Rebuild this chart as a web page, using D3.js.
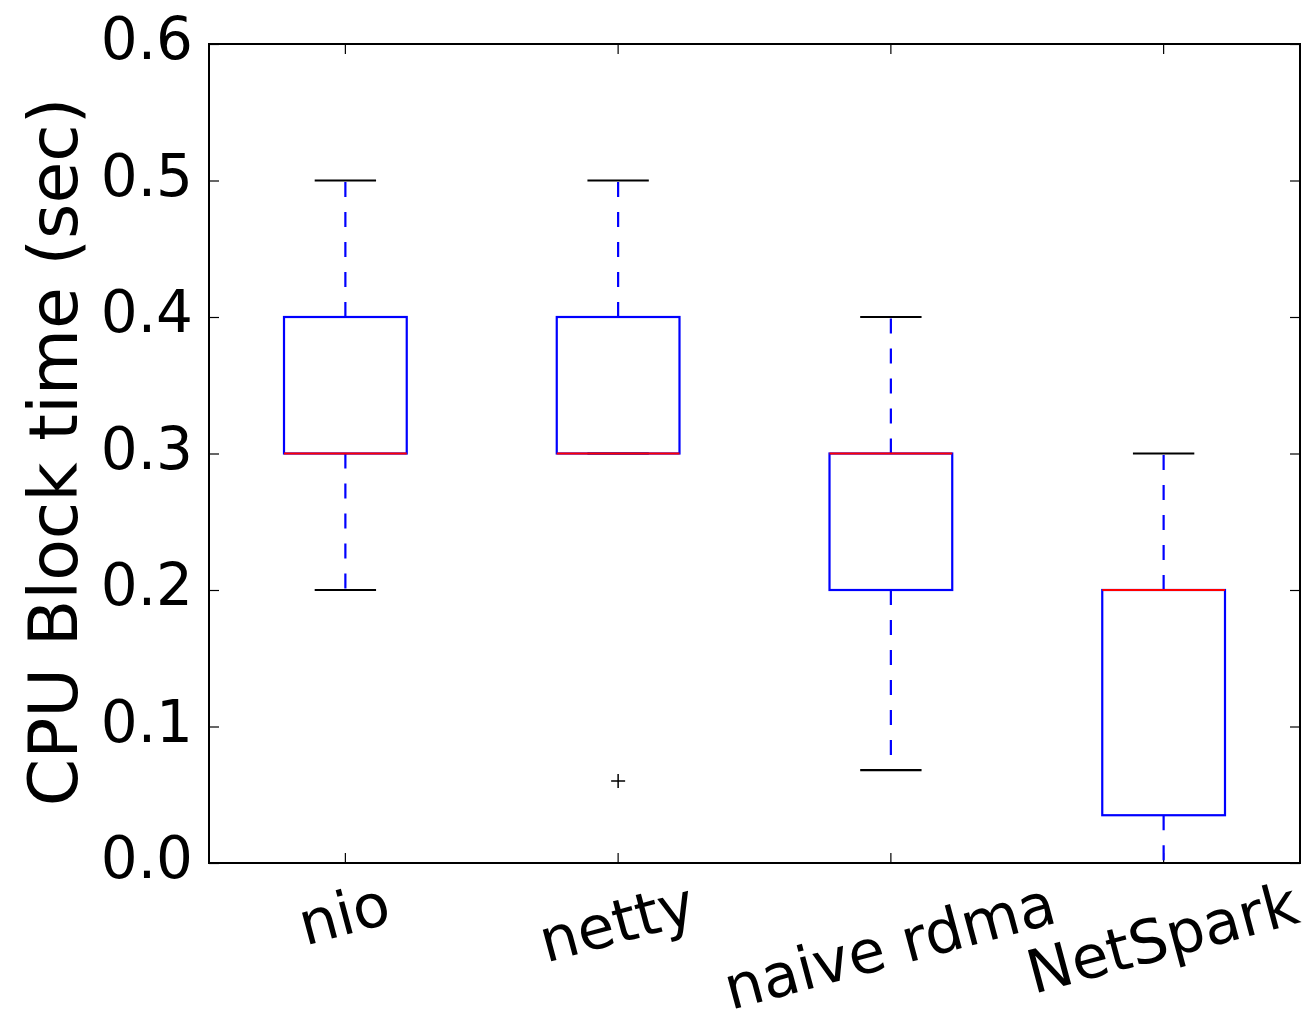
<!DOCTYPE html>
<html>
<head>
<meta charset="utf-8">
<script src="https://cdn.jsdelivr.net/npm/d3@7"></script>
<style>
  body { margin: 0; background: #fff; }
  text { font-family: "DejaVu Sans", sans-serif; fill: #000; }
</style>
</head>
<body>
<div id="chart"></div>
<script>
// data
var categories = ["nio", "netty", "naive rdma", "NetSpark"];
var whiskLow  = [0.2, 0.3, 0.068, 0.0];
var q1        = [0.3, 0.3, 0.2, 0.035];
var median    = [0.3, 0.3, 0.3, 0.2];
var q3        = [0.4, 0.4, 0.3, 0.2];
var whiskHigh = [0.5, 0.5, 0.4, 0.3];
var outliers  = [[], [0.06], [], []];
var yTicks    = [0.0, 0.1, 0.2, 0.3, 0.4, 0.5, 0.6];

var boxes = categories.map(function(c, i) {
  return {name: c, lo: whiskLow[i], q1: q1[i], med: median[i], q3: q3[i], hi: whiskHigh[i], out: outliers[i]};
});

// set the graph
var W = 1306, H = 1023;
var margin = {top: 44, right: 6, bottom: 160, left: 209},
    width = W - margin.left - margin.right,
    height = H - margin.top - margin.bottom;

var svg = d3.select("#chart")
  .append("svg")
    .attr("width", W)
    .attr("height", H)
  .append("g")
    .attr("transform", "translate(" + margin.left + "," + margin.top + ")");

var x = d3.scaleBand()
  .domain(categories)
  .range([0, width]);

var y = d3.scaleLinear()
  .domain([0, 0.6])
  .range([height, 0]);

var boxW = x.bandwidth() * 0.45,
    capW = boxW / 2;
function cx(d) { return x(d.name) + x.bandwidth() / 2; }

// axes, ticks pointing inward
var yAxis = svg.append("g")
  .call(d3.axisLeft(y).tickValues(yTicks).tickFormat(d3.format(".1f")).tickSize(-10).tickPadding(16));
yAxis.selectAll("text").style("font-size", "58px").attr("dy", "0.25em");

svg.append("g")
  .attr("transform", "translate(" + width + ",0)")
  .call(d3.axisRight(y).tickValues(yTicks).tickSize(-10).tickFormat(""));

svg.append("g")
  .attr("transform", "translate(0," + height + ")")
  .call(d3.axisBottom(x).tickSize(-10).tickFormat(""));

svg.append("g")
  .call(d3.axisTop(x).tickSize(-10).tickFormat(""));

svg.selectAll(".domain").remove();
svg.selectAll(".tick line").attr("stroke", "#000").attr("stroke-width", 1.2);

// rotated category labels, bbox top at fixed y, centred on tick
var fs = 60, ang = 15, rad = ang * Math.PI / 180;
svg.append("g").selectAll("text")
  .data(categories)
  .enter()
  .append("text")
    .text(function(d) { return d; })
    .style("font-size", fs + "px")
    .attr("text-anchor", "middle")
    .each(function(d) {
      var w = this.getComputedTextLength();
      var a = fs * 0.76, dsc = fs * 0.24;
      var x0 = x(d) + x.bandwidth() / 2 - Math.sin(rad) * (dsc - a) / 2;
      var y0 = height + 15 + Math.sin(rad) * w / 2 + Math.cos(rad) * a;
      d3.select(this).attr("transform", "translate(" + x0 + "," + y0 + ") rotate(" + (-ang) + ")");
    });

// y label
svg.append("text")
  .attr("transform", "translate(" + (77 - margin.left) + "," + (452 - margin.top) + ") rotate(-90)")
  .attr("text-anchor", "middle")
  .style("font-size", "68px")
  .text("CPU Block time (sec)");

// whiskers
var g = svg.append("g");
g.selectAll(".wh").data(boxes).enter().append("line")
  .attr("x1", cx).attr("x2", cx)
  .attr("y1", function(d) { return y(d.q3); })
  .attr("y2", function(d) { return y(d.hi); })
  .attr("stroke", "#0000ff").attr("stroke-width", 2.2).attr("stroke-dasharray", "15,15");
g.selectAll(".wl").data(boxes).enter().append("line")
  .attr("x1", cx).attr("x2", cx)
  .attr("y1", function(d) { return y(d.q1); })
  .attr("y2", function(d) { return y(d.lo); })
  .attr("stroke", "#0000ff").attr("stroke-width", 2.2).attr("stroke-dasharray", "15,15");

// caps
["lo", "hi"].forEach(function(k) {
  g.selectAll(".cap" + k).data(boxes).enter().append("line")
    .attr("x1", function(d) { return cx(d) - capW / 2; })
    .attr("x2", function(d) { return cx(d) + capW / 2; })
    .attr("y1", function(d) { return y(d[k]); })
    .attr("y2", function(d) { return y(d[k]); })
    .attr("stroke", "#000").attr("stroke-width", 2.2);
});

// boxes
g.selectAll("rect").data(boxes).enter().append("rect")
  .attr("x", function(d) { return cx(d) - boxW / 2; })
  .attr("y", function(d) { return y(d.q3); })
  .attr("width", boxW)
  .attr("height", function(d) { return y(d.q1) - y(d.q3); })
  .attr("fill", "none").attr("stroke", "#0000ff").attr("stroke-width", 2.2);

// medians
g.selectAll(".med").data(boxes).enter().append("line")
  .attr("x1", function(d) { return cx(d) - boxW / 2; })
  .attr("x2", function(d) { return cx(d) + boxW / 2; })
  .attr("y1", function(d) { return y(d.med); })
  .attr("y2", function(d) { return y(d.med); })
  .attr("stroke", "#ff0000").attr("stroke-width", 2.2);

// fliers
var fl = [];
boxes.forEach(function(d) { d.out.forEach(function(v) { fl.push({name: d.name, v: v}); }); });
g.selectAll(".fl").data(fl).enter().append("path")
  .attr("transform", function(d) { return "translate(" + cx(d) + "," + y(d.v) + ")"; })
  .attr("d", "M-7,0H7M0,-7V7")
  .attr("stroke", "#000").attr("stroke-width", 1.5);

// frame
svg.append("rect")
  .attr("width", width).attr("height", height)
  .attr("fill", "none").attr("stroke", "#000").attr("stroke-width", 2);
</script>
</body>
</html>
